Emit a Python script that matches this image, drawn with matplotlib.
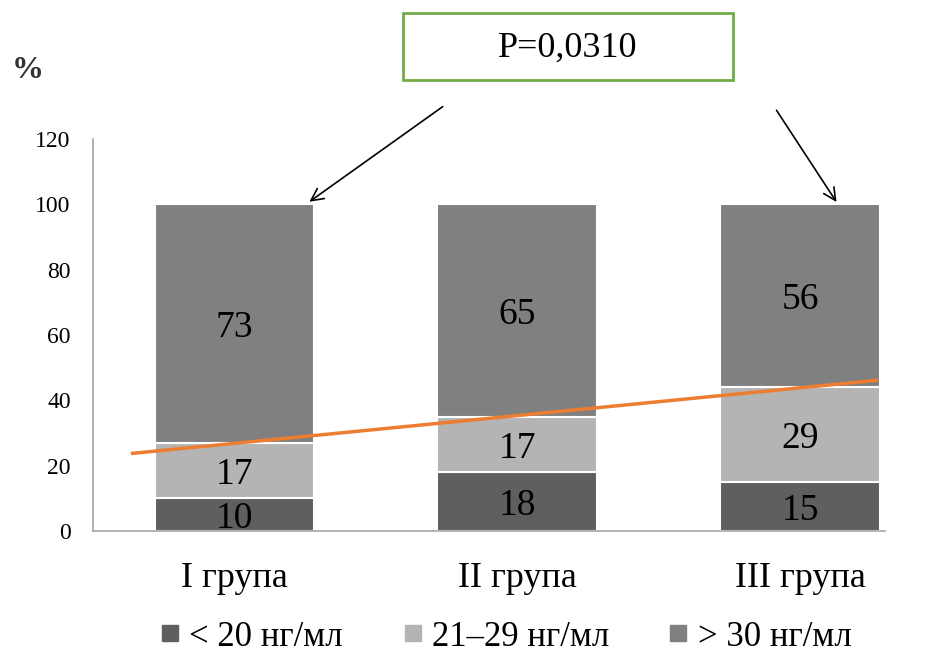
import matplotlib
matplotlib.use("Agg")
import matplotlib.pyplot as plt
from matplotlib.patches import Rectangle
from matplotlib.lines import Line2D
import numpy as np

plt.rcParams['font.family'] = ['Liberation Serif', 'DejaVu Serif']

categories = ["I група", "II група", "III група"]
series_names = ["< 20 нг/мл", "21–29 нг/мл", "> 30 нг/мл"]
lt20 = [10, 18, 15]
mid = [17, 17, 29]
gt30 = [73, 65, 56]
yticks = [0, 20, 40, 60, 80, 100, 120]
colors = ["#5f5f5f", "#b4b4b4", "#808080"]

fig = plt.figure(figsize=(9.35, 6.58), dpi=100)
ax = fig.add_axes([93/935, 127/658, 792/935, 392/658])

x = np.arange(len(categories))
w = 0.565
bottom = np.zeros(len(categories))
for vals, c in zip([lt20, mid, gt30], colors):
    vals = np.array(vals, dtype=float)
    ax.bar(x, vals, w, bottom=bottom, color=c, edgecolor="white", linewidth=1.5, zorder=2)
    for xi, b, v in zip(x, bottom, vals):
        ax.text(xi, b + v / 2, f"{int(v)}", ha="center", va="center_baseline", fontsize=27,
                color="black", zorder=4)
    bottom += vals

# linear trend of the two lower groups combined
s = np.array(lt20) + np.array(mid)
k, b0 = np.polyfit(x, s, 1)
xt = np.array([-0.36, 2.27])
ax.plot(xt, k * xt + b0, color="#ED7D31", linewidth=2.5, zorder=3)

ax.set_xlim(-0.5, 2.3)
ax.set_ylim(0, 120)
ax.set_yticks(yticks)
ax.set_yticklabels([str(t) for t in yticks], fontsize=17)
ax.set_xticks(x)
ax.set_xticklabels(categories, fontsize=26)
ax.tick_params(axis="both", length=0)
ax.tick_params(axis="y", pad=16)
ax.tick_params(axis="x", pad=22)
for sp in ["top", "right"]:
    ax.spines[sp].set_visible(False)
for sp in ["left", "bottom"]:
    ax.spines[sp].set_color("#a6a6a6")
    ax.spines[sp].set_linewidth(1.2)

fig.text(12/935, 1 - 70/658, "%", fontsize=23, fontweight="bold", color="#333333", va="center", ha="left")

# P-value box
fig.patches.append(Rectangle((403/935, 1 - 80/658), 330/935, 67/658, transform=fig.transFigure,
                             facecolor="white", edgecolor="#70AD47", linewidth=2))
fig.text(568/935, 1 - 48/658, "P=0,0310", fontsize=26, ha="center", va="center")

arrowprops = dict(arrowstyle="->", color="black", lw=1.2, mutation_scale=22)
ax.annotate("", xy=(0.257, 100.3), xycoords="data", xytext=(445, 553), textcoords="figure pixels",
            arrowprops=arrowprops, annotation_clip=False)
ax.annotate("", xy=(2.134, 100.0), xycoords="data", xytext=(775, 550), textcoords="figure pixels",
            arrowprops=arrowprops, annotation_clip=False)

handles = [Line2D([0], [0], marker="s", linestyle="none", markersize=11, markerfacecolor=c,
                  markeredgecolor=c) for c in colors]
fig.legend(handles, series_names, loc="center", bbox_to_anchor=(503/935, 1 - 637/658), ncol=3,
           frameon=False, fontsize=25, handletextpad=0.1, columnspacing=1.55, handlelength=0.9)

fig.savefig("out.png", dpi=100)
